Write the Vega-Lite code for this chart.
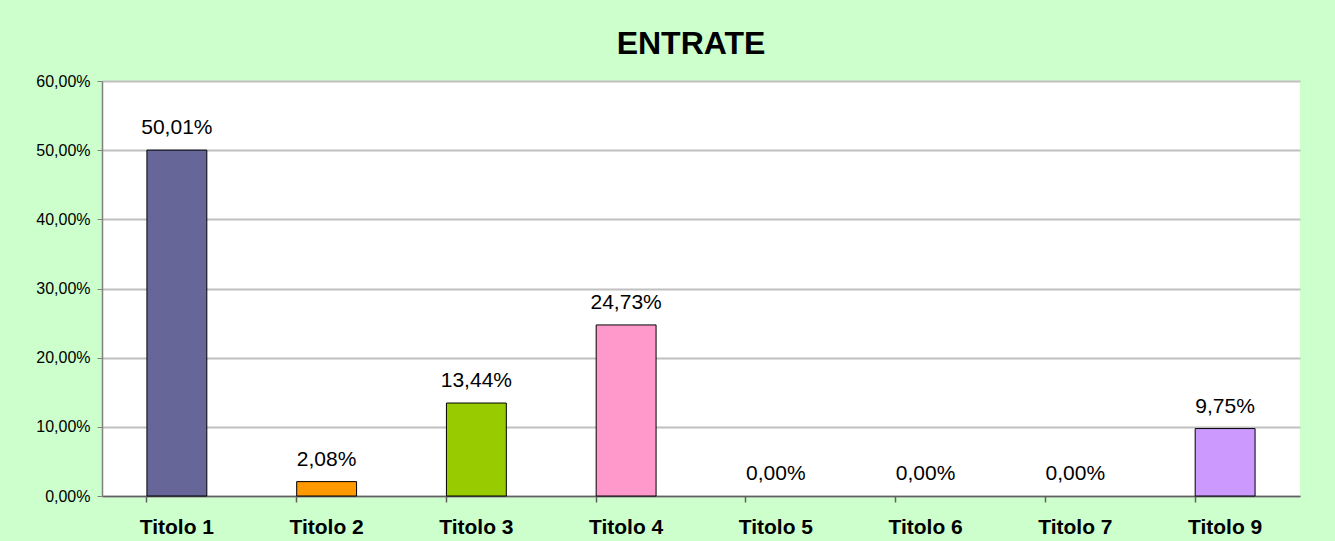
{
  "$schema": "https://vega.github.io/schema/vega-lite/v6.json",
  "autosize": "none",
  "width": 1198,
  "height": 415,
  "padding": {"left": 102, "top": 81, "right": 35, "bottom": 45},
  "background": "#CCFFCC",
  "config": {
    "locale": {"number": {"decimal": ",", "thousands": ".", "grouping": [3], "currency": ["", " €"]}},
    "view": {"fill": "#FFFFFF", "stroke": null},
    "font": "Liberation Sans"
  },
  "title": {
    "text": "ENTRATE",
    "font": "Liberation Sans",
    "fontSize": 32,
    "fontWeight": "bold",
    "color": "#000000",
    "anchor": "middle",
    "dx": -10,
    "offset": 12
  },
  "data": {
    "values": [
      {"cat": "Titolo 1", "val": 0.5001, "col": "#666699"},
      {"cat": "Titolo 2", "val": 0.0208, "col": "#FF9900"},
      {"cat": "Titolo 3", "val": 0.1344, "col": "#99CC00"},
      {"cat": "Titolo 4", "val": 0.2473, "col": "#FF99CC"},
      {"cat": "Titolo 5", "val": 0.0, "col": "#9999FF"},
      {"cat": "Titolo 6", "val": 0.0, "col": "#9999FF"},
      {"cat": "Titolo 7", "val": 0.0, "col": "#9999FF"},
      {"cat": "Titolo 9", "val": 0.0975, "col": "#CC99FF"}
    ]
  },
  "encoding": {
    "x": {
      "field": "cat",
      "type": "nominal",
      "sort": ["Titolo 1", "Titolo 2", "Titolo 3", "Titolo 4", "Titolo 5", "Titolo 6", "Titolo 7", "Titolo 9"],
      "scale": {
        "domain": ["Titolo 1", "Titolo 2", "Titolo 3", "Titolo 4", "Titolo 5", "Titolo 6", "Titolo 7", "Titolo 9"],
        "paddingInner": 0.6,
        "paddingOuter": 0.3
      },
      "axis": {
        "title": null,
        "labelAngle": 0,
        "labelFont": "Liberation Sans",
        "labelFontSize": 21,
        "labelFontWeight": "bold",
        "labelColor": "#000000",
        "labelPadding": 14,
        "tickSize": 6,
        "bandPosition": 0,
        "tickColor": "#606060",
        "tickWidth": 1.5,
        "domainColor": "#606060",
        "domainWidth": 1.5
      }
    },
    "y": {
      "field": "val",
      "type": "quantitative",
      "scale": {"domain": [0, 0.6], "nice": false},
      "axis": {
        "title": null,
        "format": ".2%",
        "values": [0, 0.1, 0.2, 0.3, 0.4, 0.5, 0.6],
        "labelFont": "Liberation Sans",
        "labelFontSize": 16,
        "labelColor": "#000000",
        "labelPadding": 7,
        "tickSize": 5,
        "tickColor": "#808080",
        "domainColor": "#808080",
        "domainWidth": 1.5,
        "grid": true,
        "gridColor": "#C0C0C0",
        "gridWidth": 2
      }
    }
  },
  "layer": [
    {
      "transform": [{"filter": "datum.val > 0"}],
      "mark": {"type": "bar", "stroke": "#000000", "strokeWidth": 1},
      "encoding": {
        "color": {"field": "col", "type": "nominal", "scale": null, "legend": null}
      }
    },
    {
      "mark": {"type": "text", "baseline": "alphabetic", "dy": -16, "fontSize": 21, "font": "Liberation Sans", "color": "#000000"},
      "encoding": {
        "text": {"field": "val", "type": "quantitative", "format": ".2%"}
      }
    }
  ]
}
